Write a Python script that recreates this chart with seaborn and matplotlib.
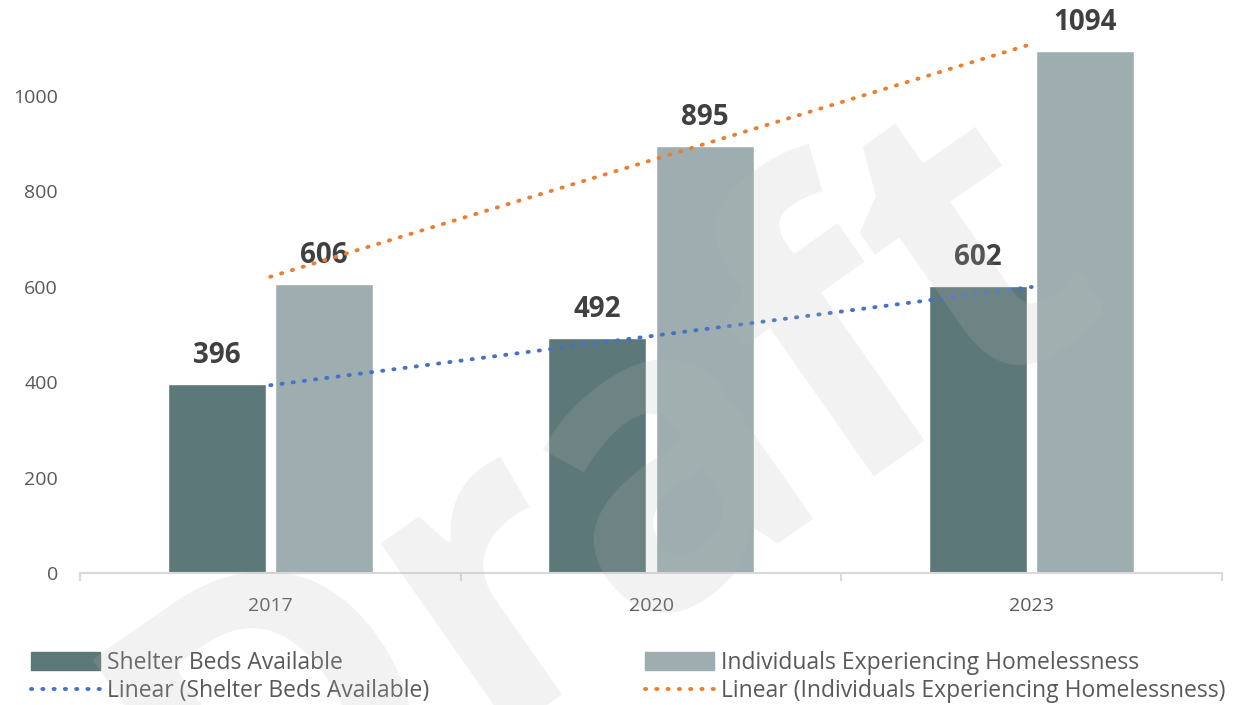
import numpy as np
import pandas as pd
import matplotlib
matplotlib.use('Agg')
import matplotlib.pyplot as plt
import seaborn as sns
from matplotlib.patches import Patch
from matplotlib.lines import Line2D

years = ['2017', '2020', '2023']
shelter_beds = [396, 492, 602]
homeless = [606, 895, 1094]
series_names = ['Shelter Beds Available', 'Individuals Experiencing Homelessness']
bar_colors = ['#5d7879', '#9eadaf']
trend_colors = ['#4472c4', '#ed7d31']

sns.set_theme(style='white')
plt.rcParams['font.family'] = ['Open Sans', 'DejaVu Sans']

df = pd.DataFrame({
    'Year': years * 2,
    'Value': shelter_beds + homeless,
    'Series': [series_names[0]] * 3 + [series_names[1]] * 3,
})

fig = plt.figure(figsize=(12.4, 7.05), dpi=100)
ax = fig.add_axes([0.0645, 0.1872, 0.921, 0.812])

sns.barplot(data=df, x='Year', y='Value', hue='Series', palette=bar_colors,
            width=0.564, gap=0.085, ax=ax, legend=False, saturation=1)

for cont in ax.containers:
    ax.bar_label(cont, fmt='%d', padding=10, fontsize=20, fontweight='bold', color='#404040')

# linear trendlines (like excel)
dots = (0, (0.3, 2.6))
xs = np.arange(len(years))
for vals, col in zip([shelter_beds, homeless], trend_colors):
    k, b = np.polyfit(xs, vals, 1)
    ax.plot(xs, k * xs + b, color=col, lw=2.8, linestyle=dots,
            dash_capstyle='round', zorder=4)

ax.set_xlim(-0.5, 2.5)
ax.set_ylim(0, 1200)
ax.set_yticks([0, 200, 400, 600, 800, 1000])
ax.set_xlabel('')
ax.set_ylabel('')
for s in ['top', 'right', 'left']:
    ax.spines[s].set_visible(False)
ax.spines['bottom'].set_color('#d9d9d9')
ax.spines['bottom'].set_linewidth(1.5)
ax.set_xticks([-0.5, 0.5, 1.5, 2.5], minor=True)
ax.tick_params(axis='x', which='major', length=0, pad=17, labelsize=14, labelcolor='#595959')
ax.tick_params(axis='x', which='minor', bottom=True, length=6, width=1.5, color='#d9d9d9')
ax.tick_params(axis='y', length=0, pad=16, labelsize=14, labelcolor='#595959')

# legend at bottom, two columns
h1 = [Patch(color=bar_colors[0]),
      Line2D([], [], color=trend_colors[0], lw=2.8, linestyle=dots, dash_capstyle='round')]
h2 = [Patch(color=bar_colors[1]),
      Line2D([], [], color=trend_colors[1], lw=2.8, linestyle=dots, dash_capstyle='round')]
l1 = ['Shelter Beds Available', 'Linear (Shelter Beds Available)']
l2 = ['Individuals Experiencing Homelessness', 'Linear (Individuals Experiencing Homelessness)']
for h, l, x0 in [(h1, l1, 0.016), (h2, l2, 0.511)]:
    fig.legend(h, l, loc='upper left', bbox_to_anchor=(x0, 0.093), frameon=False,
               fontsize=16.5, handlelength=3.0, handleheight=0.85, handletextpad=0.3,
               labelspacing=0.2, labelcolor='#595959', borderpad=0)

# faint draft watermark
fig.text(0.49, 0.285, 'Draft', rotation=35, fontsize=300, fontweight='bold',
         color='#b9b9b9', alpha=0.19, ha='center', va='center', zorder=10)

fig.savefig('out.png', dpi=100)
